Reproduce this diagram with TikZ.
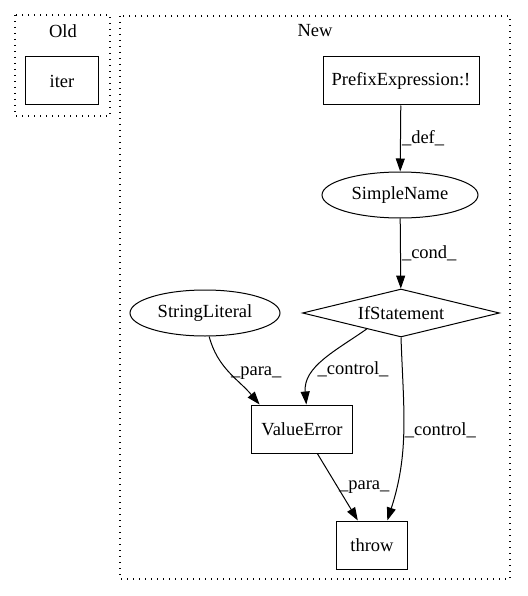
\documentclass[tikz,border=0pt]{standalone}
\usepackage{fontspec}
\setmainfont{Liberation Serif}
\usetikzlibrary{shapes.geometric,arrows.meta}

\tikzset{
  box/.style={draw, rectangle, minimum height=48pt, inner sep=0pt},
  oval/.style={draw, ellipse, minimum height=46pt, inner sep=0pt},
  cond/.style={draw, diamond, aspect=4, minimum width=197pt, minimum height=48pt, inner sep=0pt},
  cluster/.style={line width=1.2pt, dash pattern=on 1.2pt off 4.8pt},
  flow/.style={->, >={Triangle[length=13pt,width=9pt]}},
  lbl/.style={inner sep=1pt}
}

\begin{document}
\begin{tikzpicture}[x=1pt, y=-1pt, line width=1pt, font=\fontsize{18.5}{22}\selectfont]

	\useasboundingbox (0,0) rectangle (527,596);

	% clusters
	\draw[cluster] (15,15) rectangle (110,116);
	\node (oldlbl) at (63,31) {Old};
	\draw[cluster] (120,16) rectangle (510,579);
	\node (newlbl) at (315,31) {New};

	\node[box, minimum width=73pt] (iter) at (62,81) {iter};

	\node[box, minimum width=156pt] (pre) at (401,81) {PrefixExpression:!};
	\node[oval, minimum width=156pt] (sn) at (400,195) {SimpleName};
	\node[cond] (ifs) at (401,313) {IfStatement};
	\node[oval, minimum width=150pt] (sl) at (205,313) {StringLiteral};
	\node[box, minimum width=101pt] (ve) at (302,429) {ValueError};
	\node[box, minimum width=71pt] (thr) at (372,545) {throw};

	\draw[flow] (pre) -- node[lbl, right]{\_def\_} (sn);
	\draw[flow] (sn) -- node[lbl, right]{\_cond\_} (ifs);

	\draw[flow] (sl.-80) to[out=-75, in=130] node[lbl, pos=0.5, right]{\_para\_} (ve.150);
	\draw[flow] (ifs.-155) to[out=-145, in=95] node[lbl, pos=0.62, right]{\_control\_} (ve.80);
	\draw[flow] (ifs.south) to[out=-88, in=72] node[lbl, pos=0.5, right]{\_control\_} (thr.58);
	%\draw[flow] (ve) -- (thr);
	\draw[flow] (ve.-58) -- node[lbl, right]{\_para\_} (thr.120);

\end{tikzpicture}
\end{document}
